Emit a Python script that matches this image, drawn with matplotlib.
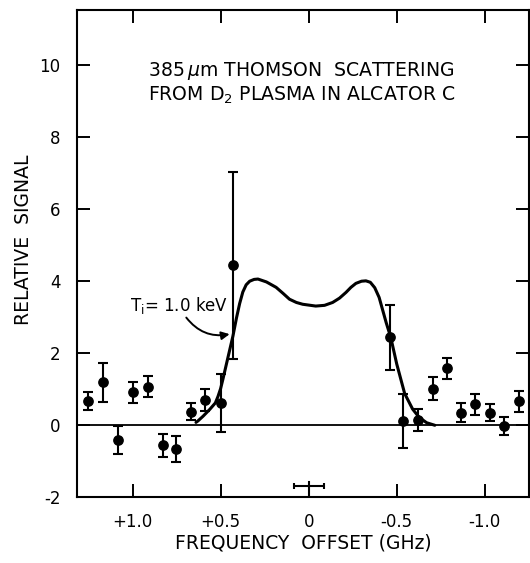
import matplotlib
matplotlib.use("Agg")
import matplotlib.pyplot as plt

plt.rcParams['font.family'] = ['DejaVu Sans']
plt.rcParams['axes.unicode_minus'] = False
plt.rcParams['mathtext.fontset'] = 'dejavusans'

# Measured data points (frequency offset in GHz, relative signal, error)
freq = [1.251, 1.170, 1.085, 1.000, 0.915, 0.830, 0.751, 0.670, 0.591, 0.496, 0.430,
        -0.463, -0.538, -0.623, -0.708, -0.784, -0.863, -0.944, -1.027, -1.108, -1.193]
signal = [0.675, 1.19, -0.41, 0.91, 1.075, -0.556, -0.667, 0.38, 0.70, 0.61, 4.44,
          2.44, 0.12, 0.14, 1.02, 1.58, 0.35, 0.58, 0.35, -0.02, 0.66]
err = [0.25, 0.55, 0.38, 0.30, 0.30, 0.32, 0.36, 0.24, 0.30, 0.80, 2.60,
       0.90, 0.74, 0.31, 0.33, 0.30, 0.26, 0.30, 0.23, 0.25, 0.29]

# Theoretical spectrum, Ti = 1.0 keV
curve_x = [0.64, 0.629, 0.60, 0.562, 0.53, 0.515, 0.50, 0.487, 0.46, 0.43, 0.41, 0.392,
           0.374, 0.355, 0.335, 0.31, 0.288, 0.24, 0.185, 0.145, 0.109, 0.07, 0.034,
           -0.04, -0.09, -0.136, -0.175, -0.212, -0.24, -0.268, -0.30, -0.325, -0.35,
           -0.375, -0.40, -0.42, -0.44, -0.466, -0.50, -0.545, -0.59, -0.627, -0.67,
           -0.716]
curve_y = [0.08, 0.12, 0.25, 0.44, 0.62, 0.80, 1.02, 1.28, 1.85, 2.48, 2.98, 3.38,
           3.70, 3.90, 4.00, 4.05, 4.06, 3.98, 3.83, 3.66, 3.5, 3.41, 3.36,
           3.31, 3.33, 3.41, 3.53, 3.69, 3.83, 3.94, 4.0, 4.01, 3.97,
           3.82, 3.55, 3.2, 2.85, 2.44, 1.7, 0.88, 0.45, 0.22, 0.07,
           0.0]

# Instrumental resolution marker
res_x = 0.0
res_y = -1.70
res_halfwidth = 0.085

xticks = [1.0, 0.5, 0.0, -0.5, -1.0]
xticklabels = ['+1.0', '+0.5', '0', '-0.5', '-1.0']
yticks = [-2, 0, 2, 4, 6, 8, 10]
yticklabels = ['-2', '0', '2', '4', '6', '8', '10']

fig = plt.figure(figsize=(5.30, 5.63), dpi=100)
ax = fig.add_axes([0.1458, 0.1167, 0.852, 0.8655])

ax.set_xlim(1.314, -1.25)
ax.set_ylim(-2, 11.53)

ax.axhline(0, color='black', lw=1.3, zorder=1)
ax.plot(curve_x, curve_y, color='black', lw=2.2, solid_joinstyle='round',
        solid_capstyle='round', zorder=2)
ax.errorbar(freq, signal, yerr=err, fmt='o', color='black', ms=6.7,
            elinewidth=1.5, capsize=3.6, capthick=1.5, zorder=3)

# resolution marker
ax.errorbar([res_x], [res_y], xerr=[res_halfwidth], fmt='none', ecolor='black',
            elinewidth=1.5, capsize=2.4, capthick=1.5)
ax.plot([res_x, res_x], [-2, -1.58], color='black', lw=1.5)

ax.set_xticks(xticks)
ax.set_xticklabels(xticklabels)
ax.set_yticks(yticks)
ax.set_yticklabels(yticklabels)
ax.tick_params(direction='in', length=9.4, width=1.4, top=True, right=True,
               labelsize=12, pad=12)
ax.tick_params(axis='x', pad=11)
for s in ax.spines.values():
    s.set_linewidth(1.5)

ax.set_xlabel('FREQUENCY  OFFSET (GHz)', fontsize=13.5, labelpad=2)
fig.text(24 / 530, 1 - 240 / 563, 'RELATIVE  SIGNAL', rotation=90, fontsize=13.5,
         ha='center', va='center')

ax.text(0.913, 9.83, r'385$\,\mu$m THOMSON  SCATTERING', fontsize=13.6,
        ha='left', va='center')
ax.text(0.913, 9.15, r'FROM D$_2$ PLASMA IN ALCATOR C', fontsize=13.6,
        ha='left', va='center')

ax.text(0.46, 3.33, r'T$_\mathregular{i}$= 1.0 keV', fontsize=12, ha='right', va='center')
ax.annotate('', xy=(0.449, 2.53), xytext=(0.695, 2.99),
            arrowprops=dict(arrowstyle='-|>', connectionstyle='arc3,rad=0.3',
                            lw=1.4, color='black', mutation_scale=12,
                            shrinkA=0, shrinkB=0))

fig.savefig('out.png', dpi=100)
